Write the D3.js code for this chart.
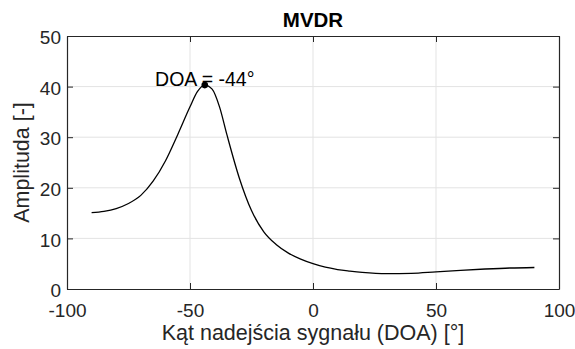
<!DOCTYPE html>
<html>
<head>
<meta charset="utf-8">
<style>
  body { margin: 0; background: #fff; }
  text { font-family: "Liberation Sans", Arial, sans-serif; }
</style>
</head>
<body>
<div id="chart-area"></div>

<script src="https://d3js.org/d3.v7.min.js"></script>
<script>
    // angle (deg) and MVDR amplitude
    const angles = [-90, -85, -80, -75, -70, -65, -60, -55, -50, -47, -44, -41, -38, -35, -30,
                    -25, -20, -15, -10, -5, 0, 5, 10, 15, 20, 30, 40, 50, 60, 70, 80, 90];
    const amplitude = [15.1, 15.35, 15.9, 16.9, 18.5, 21.3, 25.3, 30.5, 36.0, 39.0, 40.3, 39.5, 36.0, 30.5, 22.0,
                       15.5, 11.3, 8.8, 7.1, 5.9, 5.0, 4.3, 3.85, 3.55, 3.3, 3.05, 3.1, 3.4, 3.7, 3.95, 4.15, 4.25];
    const xTicks = [-100, -50, 0, 50, 100];
    const yTicks = [0, 10, 20, 30, 40, 50];
    const peak = { angle: -44, value: 40.3 };

    const width = 575, height = 349;
    const margin = { left: 67, right: 16, top: 36, bottom: 60 };

    const svg = d3.select("#chart-area").append("svg")
        .attr("width", width)
        .attr("height", height);

    const x = d3.scaleLinear().domain([-100, 100]).range([margin.left, width - margin.right]);
    const y = d3.scaleLinear().domain([0, 50]).range([height - margin.bottom, margin.top]);

    const axisColor = "#262626";
    const fmt = d => String(d);   // plain hyphen, as in the original

    // grid
    svg.append("g").selectAll("line")
        .data(xTicks.slice(1, -1)).join("line")
            .attr("x1", d => x(d)).attr("x2", d => x(d))
            .attr("y1", y(0)).attr("y2", y(50))
            .attr("stroke", "#e3e3e3").attr("stroke-width", 1);
    svg.append("g").selectAll("line")
        .data(yTicks.slice(1, -1)).join("line")
            .attr("x1", x(-100)).attr("x2", x(100))
            .attr("y1", d => y(d)).attr("y2", d => y(d))
            .attr("stroke", "#e3e3e3").attr("stroke-width", 1);

    // axes (ticks point inward, like MATLAB)
    const axBottom = svg.append("g")
        .attr("transform", `translate(0,${y(0)})`)
        .call(d3.axisBottom(x).tickValues(xTicks).tickFormat(fmt).tickSizeInner(-6).tickSizeOuter(0).tickPadding(15));
    const axLeft = svg.append("g")
        .attr("transform", `translate(${x(-100)},0)`)
        .call(d3.axisLeft(y).tickValues(yTicks).tickFormat(fmt).tickSizeInner(-6).tickSizeOuter(0).tickPadding(6));
    const axTop = svg.append("g")
        .attr("transform", `translate(0,${y(50)})`)
        .call(d3.axisTop(x).tickValues(xTicks).tickSizeInner(-6).tickSizeOuter(0).tickFormat(""));
    const axRight = svg.append("g")
        .attr("transform", `translate(${x(100)},0)`)
        .call(d3.axisRight(y).tickValues(yTicks).tickSizeInner(-6).tickSizeOuter(0).tickFormat(""));

    [axBottom, axLeft, axTop, axRight].forEach(g => {
        g.select(".domain").attr("stroke", axisColor).attr("stroke-width", 1.2);
        g.selectAll(".tick line").attr("stroke", axisColor);
        g.selectAll(".tick text")
            .attr("fill", axisColor)
            .style("font-size", "19px");
    });
    axLeft.selectAll(".tick text").attr("dy", "0.4em");

    // curve
    const data = angles.map((a, i) => ({ a: a, v: amplitude[i] }));
    svg.append("path")
        .datum(data)
        .attr("fill", "none")
        .attr("stroke", "#000")
        .attr("stroke-width", 1.3)
        .attr("d", d3.line().x(d => x(d.a)).y(d => y(d.v)).curve(d3.curveMonotoneX));

    // peak marker
    svg.append("circle")
        .attr("cx", x(peak.angle)).attr("cy", y(peak.value))
        .attr("r", 3.3).attr("fill", "#000");
    svg.append("text")
        .attr("x", x(peak.angle)).attr("y", y(peak.value) + 1)
        .attr("text-anchor", "middle")
        .style("font-size", "19.5px")
        .attr("fill", "#000")
        .text(`DOA = ${peak.angle}°`);

    // title and labels
    svg.append("text")
        .attr("x", (x(-100) + x(100)) / 2).attr("y", 27)
        .attr("text-anchor", "middle")
        .style("font-size", "20.5px").style("font-weight", "bold")
        .attr("fill", "#000")
        .text("MVDR");
    svg.append("text")
        .attr("x", (x(-100) + x(100)) / 2).attr("y", 340)
        .attr("text-anchor", "middle")
        .style("font-size", "21.5px")
        .attr("fill", axisColor)
        .text("Kąt nadejścia sygnału (DOA) [°]");
    svg.append("text")
        .attr("transform", `translate(29,${(y(0) + y(50)) / 2}) rotate(-90)`)
        .attr("text-anchor", "middle")
        .style("font-size", "21.5px")
        .attr("fill", axisColor)
        .text("Amplituda [-]");
</script>
</body>
</html>
